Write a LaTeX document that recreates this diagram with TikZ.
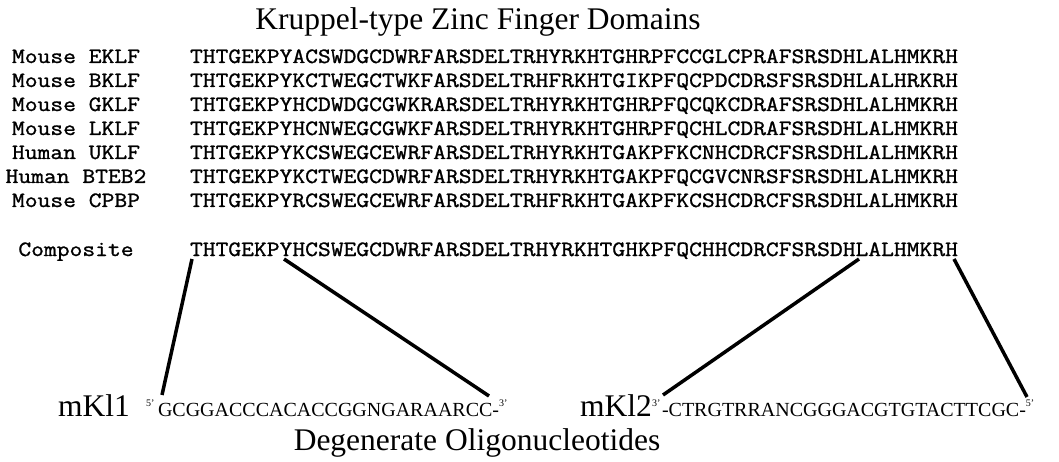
\documentclass[tikz,border=0pt]{standalone}
\usepackage{fontspec}
\setmainfont{Liberation Serif}
\newfontfamily\seqfont{Latin Modern Mono}[FakeStretch=1.14,FakeBold=1.2]
\begin{document}
\begin{tikzpicture}[x=1pt,y=-1pt,
  every node/.style={inner sep=0pt, outer sep=0pt},
  seq/.style={anchor=base west, font=\seqfont\fontsize{21.8}{24}\selectfont},
  lab/.style={anchor=base, font=\seqfont\fontsize{21.8}{24}\selectfont},
  big/.style={font=\fontsize{31.5}{36}\selectfont},
  oligo/.style={anchor=base west, font=\fontsize{20}{24}\selectfont},
  sup/.style={anchor=base west, font=\fontsize{10}{12}\selectfont},
  conn/.style={line width=3.5pt}]
\useasboundingbox[fill=white] (0,0) rectangle (1059,462);
% title
\node[big, anchor=base] (title) at (478,30) {Kruppel-type Zinc Finger Domains};
% labels and sequences
\foreach \i/\lb/\sq in {0/Mouse EKLF/THTGEKPYACSWDGCDWRFARSDELTRHYRKHTGHRPFCCGLCPRAFSRSDHLALHMKRH,
                       1/Mouse BKLF/THTGEKPYKCTWEGCTWKFARSDELTRHFRKHTGIKPFQCPDCDRSFSRSDHLALHRKRH,
                       2/Mouse GKLF/THTGEKPYHCDWDGCGWKRARSDELTRHYRKHTGHRPFQCQKCDRAFSRSDHLALHMKRH,
                       3/Mouse LKLF/THTGEKPYHCNWEGCGWKFARSDELTRHYRKHTGHRPFQCHLCDRAFSRSDHLALHMKRH,
                       4/Human UKLF/THTGEKPYKCSWEGCEWRFARSDELTRHYRKHTGAKPFKCNHCDRCFSRSDHLALHMKRH,
                       5/Human BTEB2/THTGEKPYKCTWEGCDWRFARSDELTRHYRKHTGAKPFQCGVCNRSFSRSDHLALHMKRH,
                       6/Mouse CPBP/THTGEKPYRCSWEGCEWRFARSDELTRHFRKHTGAKPFKCSHCDRCFSRSDHLALHMKRH}{
  \node[lab] (lab\i) at (76,63+24*\i) {\lb};
  \node[seq] (seq\i) at (190,63+24*\i) {\sq};
}
\node[lab] (labc) at (76,256) {Composite};
\node[seq] (comp) at (190,256) {THTGEKPYHCSWEGCDWRFARSDELTRHYRKHTGHKPFQCHHCDRCFSRSDHLALHMKRH};
% oligonucleotides
\node[big, anchor=base west] (mk1) at (58,416) {mKl1};
\node[sup] (mk1a) at (146,406) {5'};
\node[oligo] (mk1s) at (158,416) {GCGGACCCACACCGGNGARAARCC-};
\node[sup, anchor=base west] (mk1b) at (mk1s.base east) [yshift=10pt] {3'};
\node[big, anchor=base west] (mk2) at (580,416) {mKl2};
\node[sup] (mk2a) at (652,406) {3'};
\node[oligo] (mk2s) at (662,416) {-CTRGTRRANCGGGACGTGTACTTCGC-};
\node[sup, anchor=base west] (mk2b) at (mk2s.base east) [yshift=10pt] {5'};
\node[big, anchor=base] (deg) at (477,450) {Degenerate Oligonucleotides};
% connector end points
\coordinate (c1) at (192,259);
\coordinate (c2) at (284,259);
\coordinate (c3) at (859,259);
\coordinate (c4) at (954,259);
\coordinate (o1) at (162,395);
\coordinate (o2) at (489,396);
\coordinate (o3) at (663,395);
\coordinate (o4) at (1027,397);
\draw[conn] (c1) -- (o1);
\draw[conn] (c2) -- (o2);
\draw[conn] (c3) -- (o3);
\draw[conn] (c4) -- (o4);
\end{tikzpicture}
\end{document}
